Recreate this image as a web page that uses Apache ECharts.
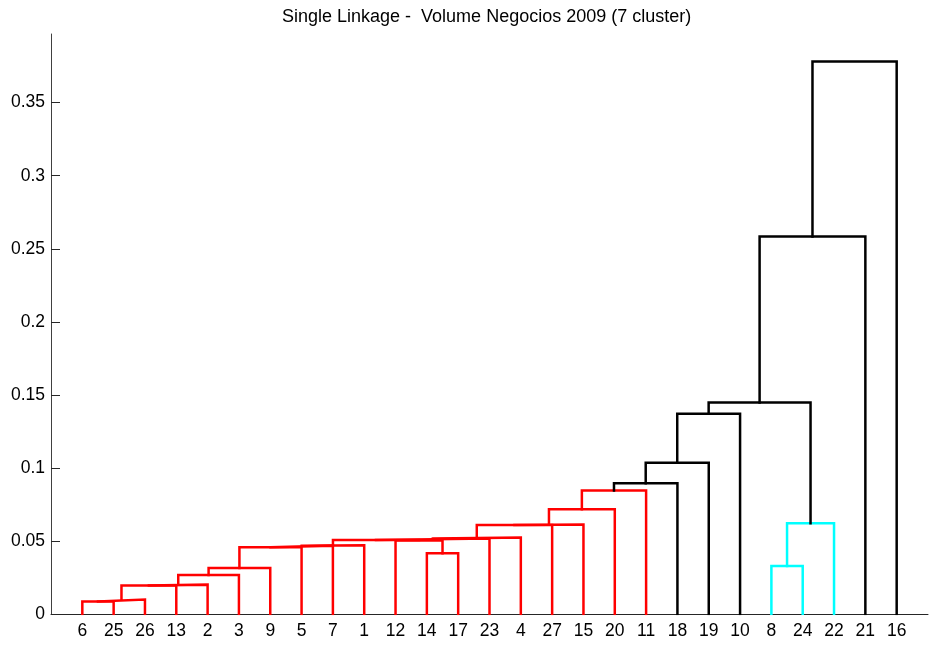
<!DOCTYPE html>
<html>
<head>
<meta charset="utf-8">
<script src="https://cdn.jsdelivr.net/npm/echarts@6/dist/echarts.min.js"></script>
<style>
html,body{margin:0;padding:0;background:#fff;}
#chart{width:933px;height:645px;}
</style>
</head>
<body>
<div id="chart"></div>
<script>
// ---- data ----
const titleText = 'Single Linkage -  Volume Negocios 2009 (7 cluster)';
// leaf labels in dendrogram order (left to right)
const leafOrder = [6, 25, 26, 13, 2, 3, 9, 5, 7, 1, 12, 14, 17, 23, 4, 27, 15, 20, 11, 18, 19, 10, 8, 24, 22, 21, 16];
// linkage rows: leaves are 1..27, row r creates cluster 28 + r
const linkLeft   = [6, 28, 29, 30, 31, 32, 8, 14, 33, 36, 37, 12, 38, 40, 41, 42, 43, 34, 44, 46, 47, 48, 49, 50, 51, 52];
const linkRight  = [25, 26, 13, 2, 3, 9, 24, 17, 5, 7, 1, 35, 39, 23, 4, 27, 15, 22, 20, 11, 18, 19, 10, 45, 21, 16];
const linkHeight = [0.0086, 0.0099, 0.0195, 0.0201, 0.0267, 0.0315, 0.0329, 0.0416, 0.0457, 0.0468, 0.0471, 0.0503, 0.0507,
                    0.0516, 0.0524, 0.0610, 0.0612, 0.0621, 0.0717, 0.0845, 0.0895, 0.1036, 0.1370, 0.1447, 0.2584, 0.3781];
const yTicks = [0, 0.05, 0.1, 0.15, 0.2, 0.25, 0.3, 0.35];
const yMax = 0.397;
const colorThreshold = 0.087;
const clusterColors = ['#ff0000', '#00ffff'];
const aboveColor = '#000000';

// ---- build dendrogram geometry from the linkage ----
const nLeaves = leafOrder.length;
const nodeX = {}, nodeY = {};
leafOrder.forEach((leaf, i) => { nodeX[leaf] = i + 1; nodeY[leaf] = 0; });
const parentOf = {};
linkLeft.forEach((l, r) => {
  const id = nLeaves + 1 + r;
  nodeX[id] = (nodeX[l] + nodeX[linkRight[r]]) / 2;
  nodeY[id] = linkHeight[r];
  parentOf[l] = id; parentOf[linkRight[r]] = id;
});
// colour clusters formed below the threshold
const rootOf = id => {
  let cur = id;
  while (parentOf[cur] !== undefined && nodeY[parentOf[cur]] < colorThreshold) cur = parentOf[cur];
  return cur;
};
const roots = [];
linkHeight.forEach((h, r) => {
  if (h < colorThreshold) { const rt = rootOf(nLeaves + 1 + r); if (!roots.includes(rt)) roots.push(rt); }
});
roots.sort((a, b) => nodeX[a] - nodeX[b]);
const linkColor = linkHeight.map((h, r) => h < colorThreshold ? clusterColors[roots.indexOf(rootOf(nLeaves + 1 + r))] : aboveColor);

const series = linkLeft.map((l, r) => {
  const rr = linkRight[r], h = linkHeight[r];
  return {
    type: 'line', silent: true, symbol: 'none', animation: false,
    lineStyle: { color: linkColor[r], width: 2.5, cap: 'square', join: 'miter' },
    data: [[nodeX[l], nodeY[l]], [nodeX[l], h], [nodeX[rr], h], [nodeX[rr], nodeY[rr]]]
  };
});

const fontFam = '"Liberation Sans", Arial, Helvetica, sans-serif';
const chart = echarts.init(document.getElementById('chart'), null, { renderer: 'canvas' });
chart.setOption({
  backgroundColor: '#ffffff',
  animation: false,
  title: {
    text: titleText, left: 277, top: 3,
    textStyle: { fontSize: 18, fontWeight: 'normal', color: '#000', fontFamily: fontFam }
  },
  grid: { left: 51, right: 5, top: 34, bottom: 31 },
  xAxis: {
    type: 'value', min: 0, max: nLeaves + 1,
    splitLine: { show: false },
    axisLine: { show: true, onZero: false, lineStyle: { color: '#262626', width: 1 } },
    axisTick: { show: true, inside: true, length: 9, customValues: leafOrder.map((_, i) => i + 1), lineStyle: { color: '#262626', width: 1 } },
    axisLabel: {
      customValues: leafOrder.map((_, i) => i + 1),
      formatter: v => String(leafOrder[Math.round(v) - 1]),
      color: '#000', fontSize: 17.5, fontFamily: fontFam, margin: 8
    }
  },
  yAxis: {
    type: 'value', min: 0, max: yMax,
    splitLine: { show: false },
    axisLine: { show: true, onZero: false, lineStyle: { color: '#404040', width: 1 } },
    axisTick: { show: true, inside: true, length: 9, customValues: yTicks, lineStyle: { color: '#262626', width: 1 } },
    axisLabel: {
      customValues: yTicks,
      formatter: v => String(v),
      color: '#000', fontSize: 17.5, fontFamily: fontFam, margin: 6
    }
  },
  series: series
});
</script>
</body>
</html>
